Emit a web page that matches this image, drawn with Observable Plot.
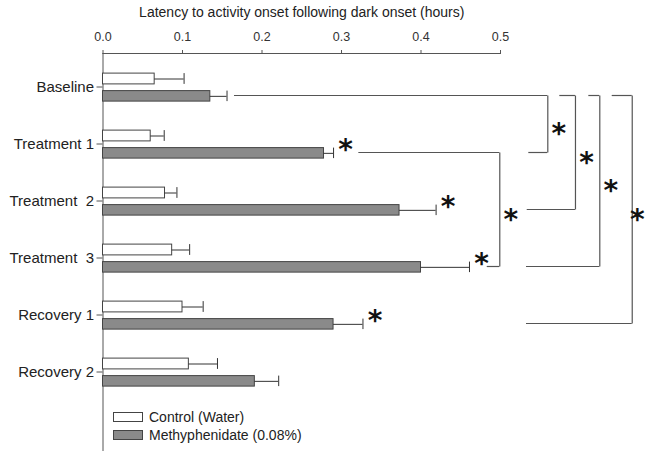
<!DOCTYPE html>
<html><head><meta charset="utf-8">
<script src="https://cdn.jsdelivr.net/npm/d3@7"></script>
<script src="https://cdn.jsdelivr.net/npm/@observablehq/plot@0.6"></script>
<style>
body{margin:0;background:#fff;}
#wrap{position:relative;width:645px;height:453px;font-family:"Liberation Sans",Arial,sans-serif;color:#222;}
#wrap svg{display:block;}
.legend{position:absolute;left:113px;top:408px;font-size:14px;line-height:18px;}
.legend .item{display:flex;align-items:center;height:18px;white-space:pre;}
.legend .sw{display:inline-block;width:28px;height:8px;border:1px solid #444;margin-right:6px;}
</style></head><body><div id="wrap"></div>
<script>
const categories = ["Baseline","Treatment 1","Treatment  2","Treatment  3","Recovery 1","Recovery 2"];
const controlMean = [0.065,0.060,0.078,0.087,0.100,0.108];
const controlSem  = [0.037,0.017,0.015,0.022,0.026,0.036];
const mphMean     = [0.135,0.278,0.373,0.400,0.290,0.191];
const mphSem      = [0.021,0.012,0.046,0.061,0.037,0.030];
const xTicks = [0,0.1,0.2,0.3,0.4,0.5];
const seriesNames = ["Control (Water)","Methyphenidate (0.08%)"];
const seriesFills = ["#ffffff","#8a8a8a"];
const xTitle = "Latency to activity onset following dark onset (hours)";
const starCategories = ["Treatment 1","Treatment  2","Treatment  3","Recovery 1"];
// brackets: from row, to row, x of vertical, x where top line starts, x where bottom line starts
const bracketFrom   = ["Baseline","Baseline","Baseline","Baseline","Treatment 1"];
const bracketTo     = ["Treatment 1","Treatment  2","Treatment  3","Recovery 1","Treatment  3"];
const bracketX      = [0.5595,0.5943,0.6249,0.6657,0.4991];
const bracketTopX   = [0.1654,0.5746,0.6111,0.6405,0.3218];
const bracketBotX   = [0.5356,0.5336,0.5327,0.5327,0.4833];

const yRange = [57.4, 400.6];
const step = (yRange[1]-yRange[0]) / categories.length;
const half = step/2;
const ctrlTop = -13.5, ctrlBot = -2.5, mphTop = 4, mphBot = 14.7;
const ctrlMid = (ctrlTop+ctrlBot)/2, mphMid = (mphTop+mphBot)/2;
const lineDy = 8.5;

const ctrl = categories.map((c,i)=>({cat:c, mean:controlMean[i], sem:controlSem[i]}));
const mph  = categories.map((c,i)=>({cat:c, mean:mphMean[i], sem:mphSem[i]}));
const stars = mph.filter(d=>starCategories.includes(d.cat));
const brackets = bracketFrom.map((f,i)=>({from:f, to:bracketTo[i], x:bracketX[i], top:bracketTopX[i], bot:bracketBotX[i],
  span: categories.indexOf(bracketTo[i]) - categories.indexOf(f)}));
const hSegs = brackets.flatMap(b=>[{y:b.from, x1:b.top, x2:b.x},{y:b.to, x1:b.bot, x2:b.x}]);

const lineColor = "#555";
const starStyle = {fontSize:28, fontWeight:"bold", fontFamily:"DejaVu Sans", fill:"#111"};
const marks = [
  Plot.frame({anchor:"top", stroke:lineColor}),
  Plot.frame({anchor:"left", stroke:lineColor}),
  Plot.axisX({anchor:"top", ticks:xTicks, tickFormat:d3.format(".1f"), tickSize:4, tickPadding:9, fontSize:12.5,
    color:"#333", stroke:lineColor, label:null}),
  Plot.axisX({anchor:"top", ticks:[], tickSize:0, fontSize:14, color:"#222",
    label:xTitle, labelAnchor:"center", labelOffset:46, labelArrow:false}),
  Plot.axisY({anchor:"left", tickSize:6, tickPadding:3, fontSize:15, color:"#222", stroke:lineColor, label:null}),
  Plot.barX(ctrl, {x:"mean", y:"cat", fill:seriesFills[0], stroke:"#444", strokeWidth:1, insetTop:half+ctrlTop, insetBottom:half-ctrlBot}),
  Plot.barX(mph, {x:"mean", y:"cat", fill:seriesFills[1], stroke:"#444", strokeWidth:1, insetTop:half+mphTop, insetBottom:half-mphBot}),
  Plot.ruleY(ctrl, {y:"cat", x1:"mean", x2:d=>d.mean+d.sem, dy:ctrlMid, stroke:"#333"}),
  Plot.ruleY(mph, {y:"cat", x1:"mean", x2:d=>d.mean+d.sem, dy:mphMid, stroke:"#333"}),
  Plot.tickX(ctrl, {x:d=>d.mean+d.sem, y:"cat", stroke:"#333", insetTop:half+ctrlTop, insetBottom:half-ctrlBot}),
  Plot.tickX(mph, {x:d=>d.mean+d.sem, y:"cat", stroke:"#333", insetTop:half+mphTop, insetBottom:half-mphBot}),
  Plot.ruleY(hSegs, {y:"y", x1:"x1", x2:"x2", dy:lineDy, stroke:lineColor, strokeWidth:1.2}),
  Plot.link(brackets, {x1:"x", x2:"x", y1:"from", y2:"to", dy:lineDy, stroke:lineColor, strokeWidth:1.2}),
  Plot.text(stars, {x:d=>d.mean+d.sem, y:"cat", text:()=>"*", dx:12, dy:6, ...starStyle}),
  ...brackets.map(b=>Plot.text([b], {x:"x", y:"from", text:()=>"*", dx: b.x > 0.65 ? 5 : 11,
    dy:b.span*half+lineDy+4+6, ...starStyle}))
];

const chart = Plot.plot({
  width:645, height:453,
  marginLeft:102.5, marginRight:145, marginTop:53, marginBottom:3,
  x:{domain:[0,0.5]},
  y:{type:"band", domain:categories, range:yRange, padding:0},
  style:{fontFamily:"'Liberation Sans', Arial, sans-serif", background:"#fff", overflow:"visible"},
  marks
});
const wrap = document.getElementById("wrap");
wrap.appendChild(chart);
const legend = document.createElement("div");
legend.className = "legend";
seriesNames.forEach((n,i)=>{
  const it = document.createElement("div"); it.className="item";
  const sw = document.createElement("span"); sw.className="sw"; sw.style.background = seriesFills[i];
  it.appendChild(sw); it.appendChild(document.createTextNode(n));
  legend.appendChild(it);
});
wrap.appendChild(legend);
</script></body></html>
